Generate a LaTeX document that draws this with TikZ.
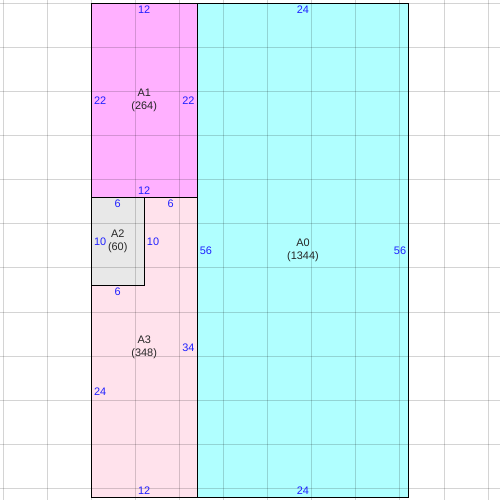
\documentclass[tikz,border=0pt]{standalone}
\usepackage{fontspec}
\setmainfont{Liberation Sans}
\definecolor{cA0}{HTML}{B0FFFF}
\definecolor{cA1}{HTML}{FFB0FF}
\definecolor{cA2}{HTML}{E8E8E8}
\definecolor{cA3}{HTML}{FFE2EC}
\definecolor{dimblue}{HTML}{2020FF}
\begin{document}
\begin{tikzpicture}[x=0.25cm,y=-0.25cm,
  font=\fontsize{8.8}{10}\selectfont,
  gridline/.style={line width=0.8pt,black,opacity=0.17},
  outline/.style={line width=0.8pt,black},
  dim/.style={text=dimblue,inner sep=2pt},
  area/.style={align=center,inner sep=0pt,text=black!85}]
\useasboundingbox (-10.35,-0.374) rectangle (46.34,56.31);
\fill[white] (-10.35,-0.374) rectangle (46.34,56.31);
% regions
\fill[cA1] (0,0) rectangle (12,22);
\fill[cA2] (0,22) rectangle (6,32);
\fill[cA3] (6,22) -- (12,22) -- (12,56) -- (0,56) -- (0,32) -- (6,32) -- cycle;
\fill[cA0] (12,0) rectangle (36,56);
% grid
\foreach \i in {-10,-5,...,45} \draw[gridline] (\i,-0.374) -- (\i,56.31);
\foreach \j in {0,5,...,55} \draw[gridline] (-10.35,\j) -- (46.34,\j);
% outlines
\draw[outline] (0,0) rectangle (12,22);
\draw[outline] (0,22) rectangle (6,32);
\draw[outline] (6,22) -- (12,22) -- (12,56) -- (0,56) -- (0,32) -- (6,32) -- cycle;
\draw[outline] (12,0) rectangle (36,56);
% area labels
\node[area] (a1) at (6,11) {A1\\(264)};
\node[area] (a2) at (3,27) {A2\\(60)};
\node[area] (a3) at (6,39) {A3\\(348)};
\node[area] (a0) at (24,28) {A0\\(1344)};
% A1 dims
\node[dim,anchor=north] (a1t) at (6,0) {12};
\node[dim,anchor=south] (a1b) at (6,22) {12};
\node[dim,anchor=west] (a1l) at (0,11) {22};
\node[dim,anchor=east] (a1r) at (12,11) {22};
% A2 dims
\node[dim,anchor=north] (a2t) at (3,22) {6};
\node[dim,anchor=west] (a2l) at (0,27) {10};
% A3 dims
\node[dim,anchor=north] (a3t) at (9,22) {6};
\node[dim,anchor=west] (a3s) at (6,27) {10};
\node[dim,anchor=north] (a3n) at (3,32) {6};
\node[dim,anchor=west] (a3l) at (0,44) {24};
\node[dim,anchor=east] (a3r) at (12,39) {34};
\node[dim,anchor=south] (a3b) at (6,56) {12};
% A0 dims
\node[dim,anchor=north] (a0t) at (24,0) {24};
\node[dim,anchor=west] (a0l) at (12,28) {56};
\node[dim,anchor=east] (a0r) at (36,28) {56};
\node[dim,anchor=south] (a0b) at (24,56) {24};
\end{tikzpicture}
\end{document}
